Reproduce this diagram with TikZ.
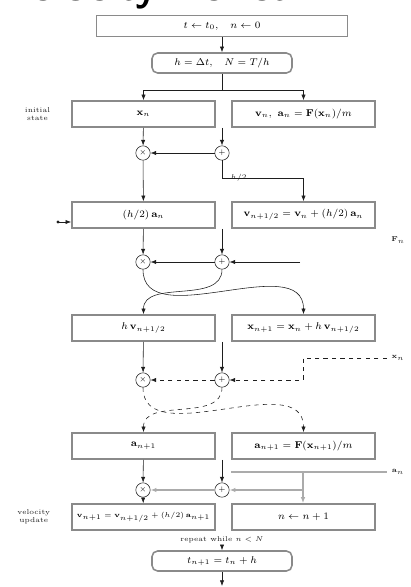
\documentclass[tikz,border=0pt]{standalone}
\usepackage{amsmath,amssymb}
\usepackage{xcolor}
\usetikzlibrary{arrows.meta, positioning, calc}
\definecolor{ink}{HTML}{1E1E1E}
\definecolor{frame}{HTML}{8A8A8A}
\definecolor{wire}{HTML}{ABABAB}

\begin{document}
\begin{tikzpicture}[
  x=0.025cm, y=-0.025cm,
  box/.style={draw=frame, line width=1.1pt, fill=white, minimum height=6.5mm, minimum width=35.8mm, align=center, font=\scriptsize, inner sep=1pt},
  wide/.style={box, minimum width=62.8mm, minimum height=5.3mm},
  pill/.style={box, rounded corners=4pt, minimum width=35mm, minimum height=5mm},
  op/.style={circle, draw=ink, fill=white, minimum size=3.6mm, inner sep=0pt, font=\tiny},
  arr/.style={-{Latex[length=1.4mm]}, ink, thin},
  feed/.style={-{Latex[length=1.5mm]}, wire, line width=1.3pt},
  dashedarr/.style={-{Latex[length=1.4mm]}, ink, thin, dashed},
  lbl/.style={font=\tiny, text=ink, align=center}
]
  \useasboundingbox (0,0) rectangle (411,587);

  % title, cut by the top edge
  \node[anchor=base west, font=\sffamily\bfseries\fontsize{30}{30}\selectfont, inner sep=0pt] (title) at (2,0) {Velocity Verlet};

  \node[wide] (init) at (222,26) {$t \leftarrow t_0,\quad n \leftarrow 0$};
  \node[pill] (step) at (222,63) {$h = \Delta t,\quad N = T/h$};

  % row 1
  \node[box] (xa) at (143.5,114) {$\mathbf{x}_n$};
  \node[box] (va) at (303.5,114) {$\mathbf{v}_n,\ \mathbf{a}_n = \mathbf{F}(\mathbf{x}_n)/m$};
  \node[lbl, left=4mm of xa] (lin) {initial\\state};
  \node[op] (ka) at (143,153) {$\times$};
  \node[op] (kb) at (222,153) {$+$};
  \node[lbl, anchor=west] (half) at (226,178) {$h/2$};

  % row 2
  \node[box] (xb) at (143.5,215) {$(h/2)\,\mathbf{a}_n$};
  \node[box] (vb) at (303.5,215) {$\mathbf{v}_{n+1/2} = \mathbf{v}_n + (h/2)\,\mathbf{a}_n$};
  \coordinate (din) at (58,222);
  \node[lbl] (fn) at (398,240) {$\mathbf{F}_n$};
  \node[op] (kc) at (143,262) {$\times$};
  \node[op] (kd) at (222,262) {$+$};
  \coordinate (hin) at (300,262);

  % row 3
  \node[box] (xc) at (143.5,328) {$h\,\mathbf{v}_{n+1/2}$};
  \node[box] (vc) at (303.5,328) {$\mathbf{x}_{n+1} = \mathbf{x}_n + h\,\mathbf{v}_{n+1/2}$};
  \node[lbl] (xn) at (398,358) {$\mathbf{x}_n$};
  \coordinate (bend) at (303,358);
  \node[op] (ke) at (143,380) {$\times$};
  \node[op] (kf) at (222,380) {$+$};

  % row 4
  \node[box] (xd) at (143.5,446) {$\mathbf{a}_{n+1}$};
  \node[box] (vd) at (303.5,446) {$\mathbf{a}_{n+1} = \mathbf{F}(\mathbf{x}_{n+1})/m$};
  \node[lbl] (an) at (398,472) {$\mathbf{a}_n$};
  \coordinate (tap) at (303,472);
  \node[op] (kg) at (143,490) {$\times$};
  \node[op] (kh) at (222,490) {$+$};

  % row 5
  \node[box, font=\tiny] (xe) at (143.5,517) {$\mathbf{v}_{n+1} = \mathbf{v}_{n+1/2} + (h/2)\,\mathbf{a}_{n+1}$};
  \node[box] (ve) at (303.5,517) {$n \leftarrow n+1$};
  \node[lbl, left=4mm of xe] (lout) {velocity\\update};
  \node[lbl] (loop) at (222,540) {repeat while $n < N$};
  \node[pill] (done) at (222,561) {$t_{n+1} = t_n + h$};
  \coordinate (out) at (222,586);

  \draw[arr] (init) -- (step);
  \draw[arr] (step.south) -- ++(0,17) -| (xa.north);
  \draw[arr] (step.south) -- ++(0,17) -| (va.north);
  \draw[arr] (xa) -- (ka);
  \draw[arr] (kb) -- (ka);
  \draw[arr] (va.south -| kb) -- (kb);
  \draw[arr] (ka) -- (xb);
  \draw[arr] (kb) -- ++(0,25) -| (vb.north);
  \draw[arr] (din) -- (xb.west |- din);
  \fill[ink] (din) circle (1.2pt);
  \draw[arr] (xb) -- (kc);
  \draw[arr] (vb.south -| kd) -- (kd);
  \draw[arr] (hin) -- (kd);
  \draw[arr] (kd) -- (kc);
  \draw[arr] (kc) to[out=-90, in=90] (vc.north);
  \draw[arr] (kd) to[out=-90, in=90] (xc.north);
  \draw[dashedarr] (xn) -- (bend) -- (bend |- kf) -- (kf);
  \draw[dashedarr] (kf) -- (ke);
  \draw[arr] (xc) -- (ke);
  \draw[arr] (vc.south -| kf) -- (kf);
  \draw[dashedarr] (ke) to[out=-90, in=90] (vd.north);
  \draw[dashedarr] (kf) to[out=-90, in=90] (xd.north);
  \draw[wire, line width=1.3pt] (an) -- (tap) -- (tap -| vd.west);
  \draw[feed] (tap) -- (ve.north -| tap);
  \draw[feed] (tap) ++(0,18) -- (kh);
  \draw[feed] (kh) -- (kg);
  \draw[arr] (xd) -- (kg);
  \draw[arr] (vd.south -| kh) -- (kh);
  \draw[arr] (kg) -- (xe);
  \draw[arr] (loop) -- (done);
  \draw[arr] (done) -- (out);
\end{tikzpicture}
\end{document}
